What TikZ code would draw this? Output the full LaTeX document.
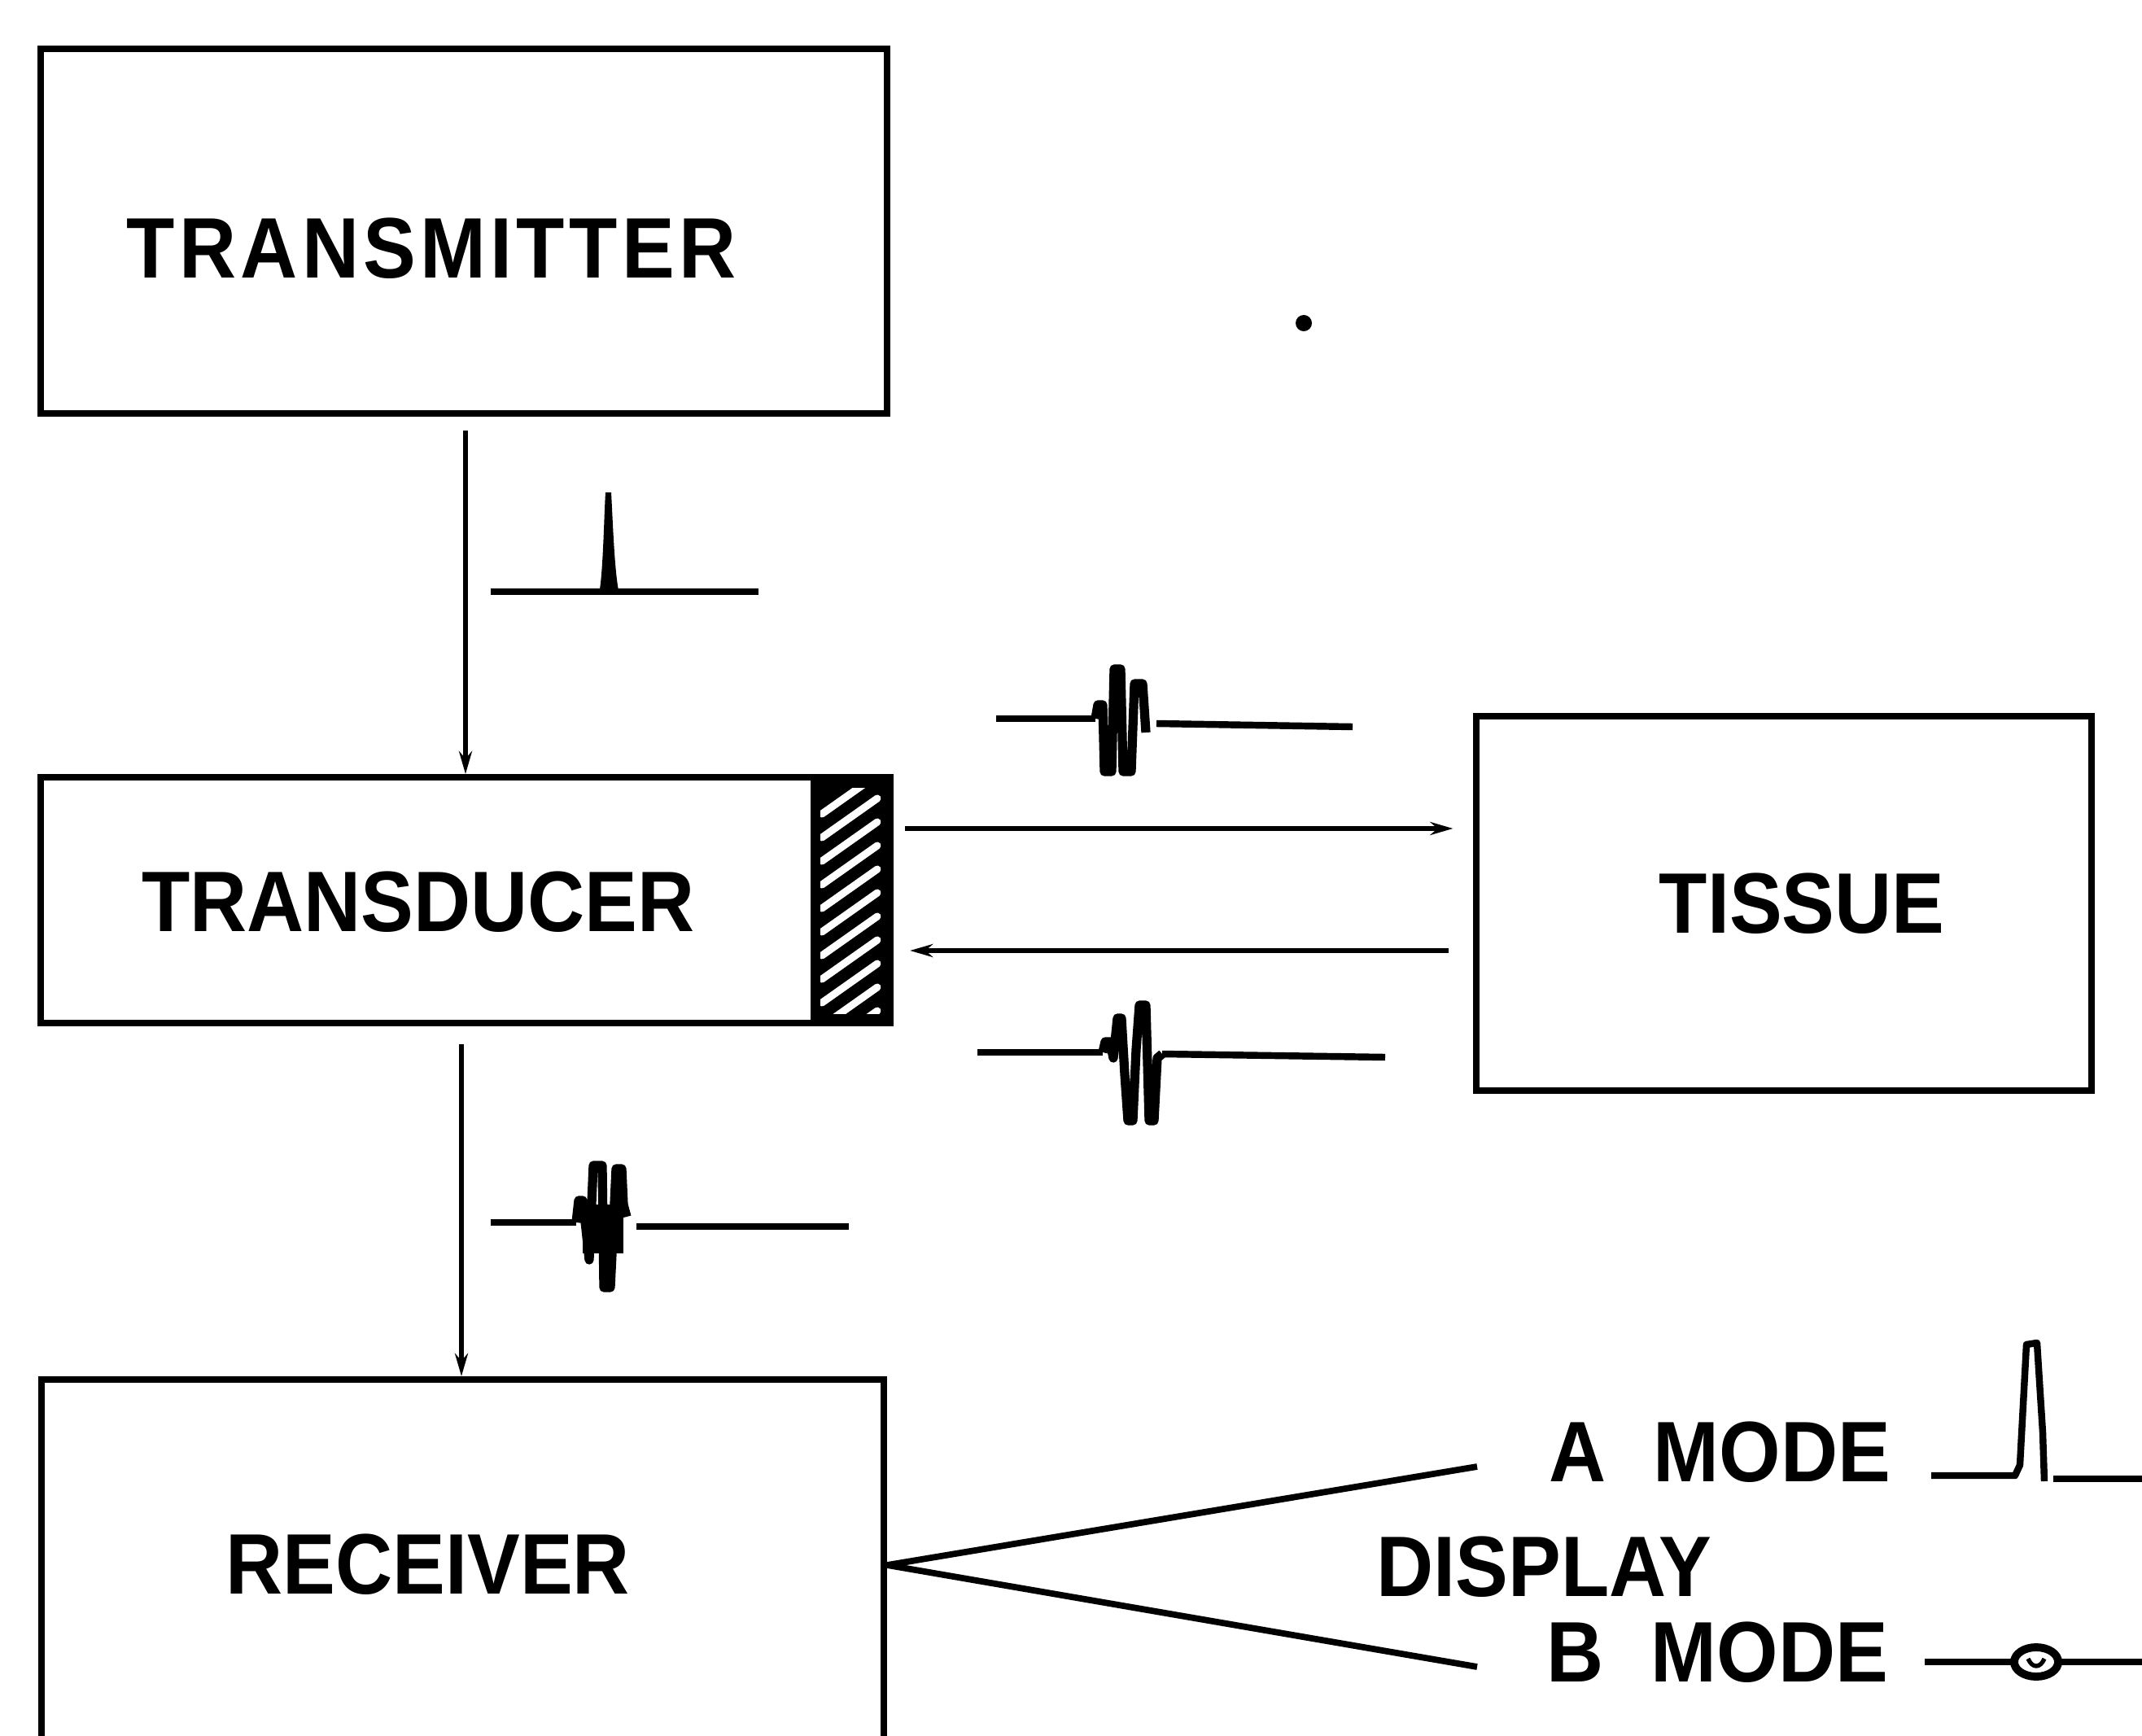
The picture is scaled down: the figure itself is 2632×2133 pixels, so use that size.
\documentclass[tikz,border=0pt]{standalone}
\usepackage{fontspec}
\setmainfont{Liberation Sans}[FakeStretch=0.92]
\usetikzlibrary{arrows.meta}
\begin{document}
\begin{tikzpicture}[x=0.01cm,y=-0.01cm,
  box/.style={draw, line width=2.2pt, inner sep=0pt},
  lbl/.style={font=\fontsize{30}{34}\selectfont\bfseries, inner sep=0pt},
  conn/.style={line width=1.5pt, -{Stealth[length=0.28cm,width=0.16cm]}},
  wave/.style={line width=2.4pt, line join=round},
  burst/.style={line width=3.2pt, line join=round},
  rline/.style={line width=2.2pt}]
\useasboundingbox (0,0) rectangle (2632,2133);
\clip (0,0) rectangle (2632,2133);

% boxes
\node[box, minimum width=10.40cm, minimum height=4.48cm] (tx) at (570,284) {};
\node[box, minimum width=10.44cm, minimum height=3.02cm] (td) at (572,1106) {};
\node[box, minimum width=7.55cm, minimum height=4.60cm] (ts) at (2192,1110) {};
\node[box, minimum width=10.35cm, minimum height=5.20cm] (rx) at (568.5,1955) {};

% transducer face (hatched)
\fill (996,955) rectangle (1094,1257);
\begin{scope}
  \clip (1008,968) rectangle (1082,1245);
  \foreach \k in {0,...,10}
    \draw[white, line width=0.09cm, line cap=round] (1010,1000+29*\k) -- ++(68,-48);
\end{scope}

% labels
\node[lbl] at (530,305) {\addfontfeature{LetterSpace=5}TRANSMITTER};
\node[lbl] at (514,1108) {TRANSDUCER};
\node[lbl] at (2214,1110) {TISSUE};
\node[lbl] at (526,1922) {RECEIVER};
\node[lbl, anchor=west] (am) at (1903,1784) {A\hspace{0.55em}MODE};
\node[lbl, anchor=west] (dp) at (1691,1925) {DISPLAY};
\node[lbl, anchor=west] (bm) at (1900,2030) {B\hspace{0.55em}MODE};

% connectors
\coordinate (c1) at (572,0);
\draw[conn, shorten <=0.17cm] (tx.south -| c1) -- (td.north -| c1);
\coordinate (c2) at (567,0);
\draw[conn, shorten <=0.22cm] (td.south -| c2) -- (rx.north -| c2);
\coordinate (fwd) at (0,1018);
\draw[conn, shorten <=0.14cm, shorten >=0.25cm] (td.east |- fwd) -- (ts.west |- fwd);
\coordinate (bwd) at (0,1168);
\draw[conn, shorten <=0.30cm, shorten >=0.2cm] (ts.west |- bwd) -- (td.east |- bwd);

% receiver to display
\coordinate (vtx) at (0,1923);
\coordinate (aend) at (1815,1802);
\coordinate (bend) at (1815,2048);
\draw[rline] (rx.east |- vtx) -- (aend);
\draw[rline] (rx.east |- vtx) -- (bend);

% transmit pulse
\draw[wave] (603,727) -- (932,727);
\fill (736,730) .. controls (741,705) and (742,640) .. (744,605) -- (751,605) .. controls (753,640) and (755,705) .. (761,730) -- cycle;

% echo bursts
\draw[wave] (1224,883) -- (1346,883);
\draw[burst] (1346,883) -- (1349,866) -- (1355,866) -- (1357,948) -- (1366,948) -- (1369,822) -- (1377,822) -- (1380,948) -- (1390,948) -- (1394,840) -- (1404,840) -- (1408,900);
\draw[wave] (1421,889) -- (1662,893);

\draw[wave] (1201,1293) -- (1355,1293);
\draw[burst] (1355,1293) -- (1358,1280) -- (1364,1280) -- (1368,1300) -- (1373,1251) -- (1378,1251) -- (1382,1320) -- (1386,1377) -- (1392,1377) -- (1396,1290) -- (1400,1235) -- (1408,1235) -- (1412,1377) -- (1418,1377) -- (1422,1300) -- (1428,1295);
\draw[wave] (1428,1295) -- (1702,1299);

\draw[wave] (603,1502) -- (708,1502);
\draw[burst] (708,1502) -- (711,1475) -- (716,1475) -- (720,1510) -- (724,1548) -- (729,1432) -- (740,1432) -- (742,1582) -- (750,1582) -- (754,1500) -- (757,1436) -- (764,1436) -- (766,1480) -- (770,1495);
\fill (716,1480) rectangle (766,1540);
\draw[wave] (782,1507) -- (1043,1507);

% A mode trace
\draw[wave] (2373,1813) -- (2476,1813) -- (2482,1800) -- (2490,1652) -- (2503,1650) -- (2510,1760) -- (2512,1820);
\draw[wave] (2523,1817) -- (2640,1817);

% B mode trace
\draw[wave] (2365,2042) -- (2474,2042);
\draw[line width=2.8pt] (2502,2042) ellipse [x radius=0.27cm, y radius=0.18cm];
\draw[line width=1.5pt] (2492,2038) .. controls (2497,2050) and (2507,2050) .. (2512,2038);
\draw[wave] (2530,2042) -- (2640,2042);

% stray dot
\fill (1602,397) circle [radius=0.1cm];
\end{tikzpicture}
\end{document}
